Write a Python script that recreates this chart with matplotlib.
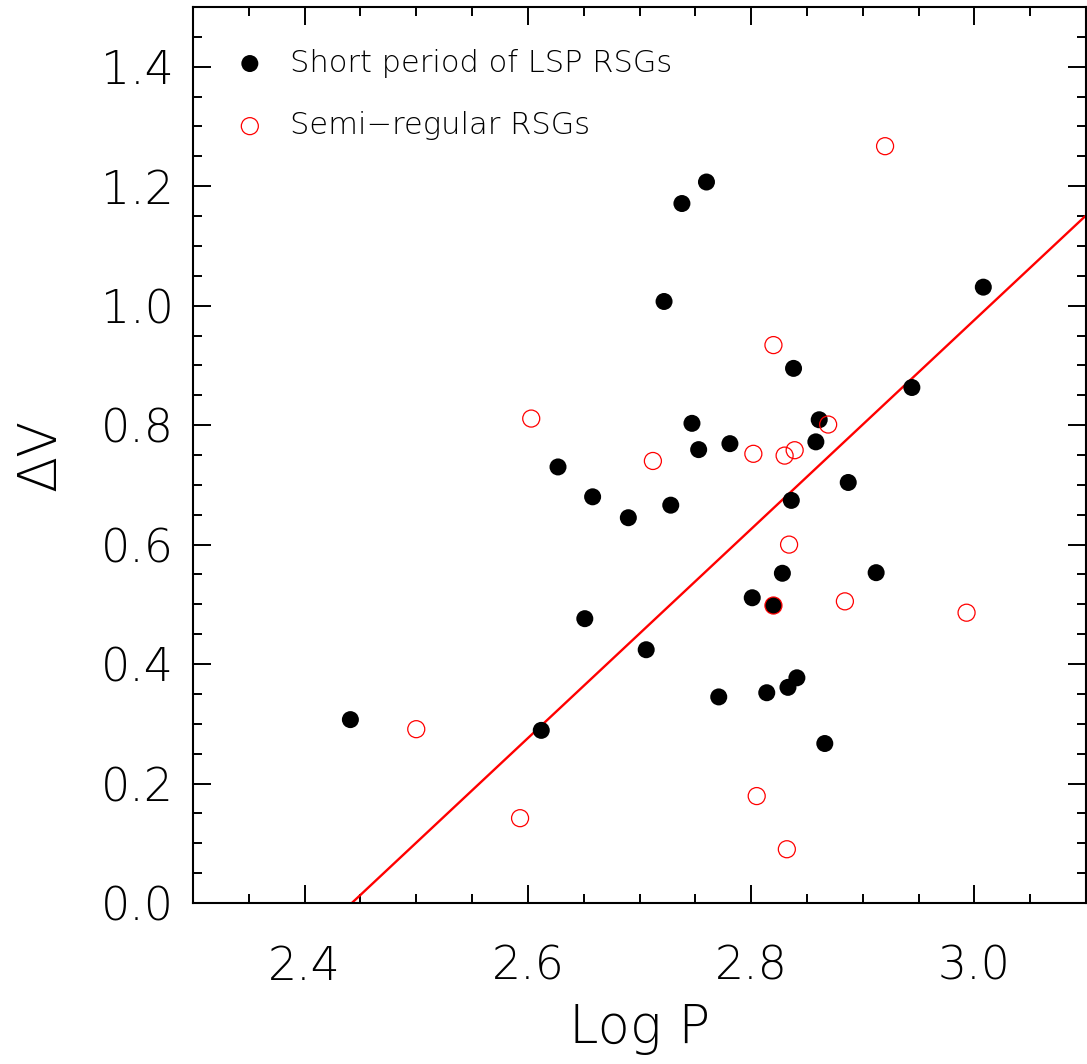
import matplotlib
matplotlib.use("Agg")
import matplotlib.pyplot as plt
import numpy as np
from matplotlib.ticker import MultipleLocator

# Short period of LSP RSGs (filled)
lsp_logp = [2.441, 2.612, 2.706, 2.651, 2.627, 2.658, 2.690, 2.728, 2.760, 2.738,
            2.722, 2.838, 2.747, 2.753, 2.781, 2.861, 2.858, 2.887, 2.836, 2.828,
            2.801, 2.820, 2.912, 2.771, 2.814, 2.833, 2.841, 2.866, 3.008, 2.944]
lsp_dv = [0.307, 0.289, 0.424, 0.476, 0.730, 0.680, 0.645, 0.666, 1.207, 1.171,
          1.007, 0.895, 0.803, 0.759, 0.769, 0.809, 0.772, 0.704, 0.674, 0.552,
          0.511, 0.498, 0.553, 0.345, 0.352, 0.361, 0.377, 0.267, 1.031, 0.863]

# Semi-regular RSGs (open)
sr_logp = [2.603, 2.712, 2.500, 2.593, 2.820, 2.920, 2.802, 2.830, 2.839, 2.869,
           2.834, 2.820, 2.884, 2.805, 2.832, 2.993]
sr_dv = [0.811, 0.740, 0.291, 0.142, 0.934, 1.267, 0.752, 0.749, 0.758, 0.801,
         0.600, 0.498, 0.505, 0.179, 0.090, 0.486]

# linear fit shown in red
fit_slope = 1.75
fit_intercept = -4.274

FONT = "DejaVu Sans"
W, H = 1087, 1064

fig = plt.figure(figsize=(W / 100, H / 100), dpi=100)
ax = fig.add_axes([193 / W, 161 / H, 893 / W, 896 / H])

xs = np.array([2.3, 3.1])
ax.plot(xs, fit_slope * xs + fit_intercept, color="red", lw=1.7, zorder=2)

ax.scatter(lsp_logp, lsp_dv, s=150, color="black", edgecolor="none",
           zorder=3, label="Short period of LSP RSGs")
ax.scatter(sr_logp, sr_dv, s=150, facecolor="none", edgecolor="red",
           linewidth=0.9, zorder=4, label="Semi\u2212regular RSGs")

ax.set_xlim(2.3, 3.1)
ax.set_ylim(0.0, 1.5)
ax.xaxis.set_major_locator(MultipleLocator(0.2))
ax.xaxis.set_minor_locator(MultipleLocator(0.05))
ax.yaxis.set_major_locator(MultipleLocator(0.2))
ax.yaxis.set_minor_locator(MultipleLocator(0.05))
ax.set_xticks([2.4, 2.6, 2.8, 3.0])
ax.set_xticklabels(["2.4", "2.6", "2.8", "3.0"])
ax.set_yticks([0.0, 0.2, 0.4, 0.6, 0.8, 1.0, 1.2, 1.4])
ax.set_yticklabels(["0.0", "0.2", "0.4", "0.6", "0.8", "1.0", "1.2", "1.4"])

ax.tick_params(which="both", direction="in", top=True, right=True,
               width=1.4, color="black")
ax.tick_params(which="major", length=13)
ax.tick_params(which="minor", length=6.5)
ax.tick_params(axis="y", which="major", pad=14, labelsize=33)
ax.tick_params(axis="x", which="major", pad=30, labelsize=33)
for lab in ax.get_xticklabels() + ax.get_yticklabels():
    lab.set_family(FONT)
    lab.set_fontweight("light")
for sp in ax.spines.values():
    sp.set_linewidth(1.5)

ax.set_xlabel("Log P", fontsize=38, family=FONT, fontweight="light", labelpad=10)
ax.set_ylabel("\u0394V", fontsize=38, family=FONT, fontweight="light", labelpad=24)

ax.legend(loc="upper left", frameon=False, handlelength=1.0,
          handletextpad=0.81, borderaxespad=1.3, borderpad=0.06,
          labelspacing=1.1, scatterpoints=1,
          prop={"family": FONT, "size": 22, "weight": "light"})

fig.savefig("out.png", dpi=100)
